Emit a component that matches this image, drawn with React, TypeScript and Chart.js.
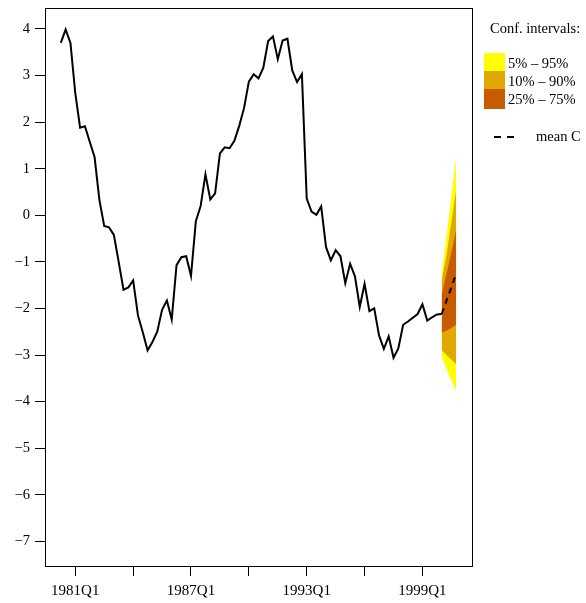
import React, { useEffect, useRef } from 'react';
import { Chart, registerables } from 'chart.js';
Chart.register(...registerables);

// Quarterly series starting 1980Q2
const startYear = 1980.25;
const seriesValues = [
  3.70, 3.99, 3.70, 2.62, 1.88, 1.91, 1.58, 1.25, 0.33, -0.23,
  -0.26, -0.42, -1.00, -1.60, -1.55, -1.40, -2.15, -2.51, -2.90, -2.72,
  -2.50, -2.03, -1.83, -2.24, -1.07, -0.90, -0.88, -1.30, -0.13, 0.20,
  0.88, 0.34, 0.47, 1.33, 1.46, 1.44, 1.60, 1.92, 2.30, 2.87,
  3.03, 2.94, 3.17, 3.74, 3.84, 3.35, 3.75, 3.79, 3.11, 2.86,
  3.03, 0.36, 0.08, 0.01, 0.19, -0.68, -0.97, -0.75, -0.88, -1.46,
  -1.04, -1.31, -1.97, -1.47, -2.06, -2.00, -2.58, -2.87, -2.60, -3.06,
  -2.86, -2.35, -2.28, -2.20, -2.12, -1.91, -2.26, -2.19, -2.13, -2.12,
];

// Forecast fan (2000Q1 .. 2000Q4)
const fanX = [2000.0, 2000.25, 2000.5, 2000.75];
const fanMean = [-2.12, -1.83, -1.55, -1.25];
const fanP95 = [-1.25, -0.45, 0.40, 1.25];
const fanP90 = [-1.40, -0.85, -0.15, 0.55];
const fanP75 = [-1.70, -1.25, -0.80, -0.30];
const fanP25 = [-2.52, -2.48, -2.42, -2.35];
const fanP10 = [-2.90, -3.00, -3.10, -3.20];
const fanP5 = [-3.05, -3.30, -3.55, -3.77];

const xTickValues = [1981, 1984, 1987, 1990, 1993, 1996, 1999];
const xTickLabels = ['1981Q1', '', '1987Q1', '', '1993Q1', '', '1999Q1'];
const yTickValues = [-7, -6, -5, -4, -3, -2, -1, 0, 1, 2, 3, 4];

const legendTitle = 'Conf. intervals:';
const legendLabels = ['5% \u2013 95%', '10% \u2013 90%', '25% \u2013 75%'];
const bandColors = ['#FFFF00', '#E0A800', '#C85A00'];
const meanLabel = 'mean C';

const FONT = '"Liberation Serif", "Times New Roman", serif';

const decorPlugin = {
  id: 'decor',
  afterDraw(chart: any) {
    const { ctx, chartArea: a } = chart;
    ctx.save();
    ctx.strokeStyle = '#000';
    ctx.lineWidth = 1;
    ctx.strokeRect(Math.round(a.left) + 0.5, Math.round(a.top) + 0.5, Math.round(a.right - a.left), Math.round(a.bottom - a.top));
    ctx.fillStyle = '#000';
    ctx.font = '14.5px ' + FONT;
    ctx.textBaseline = 'middle';
    ctx.textAlign = 'left';
    ctx.fillText(legendTitle, 490, 29);
    const boxTops = [53, 71, 89];
    const boxH = [18, 18, 20];
    for (let i = 0; i < 3; i++) {
      ctx.fillStyle = bandColors[i];
      ctx.fillRect(484, boxTops[i], 21, boxH[i]);
      ctx.fillStyle = '#000';
      ctx.fillText(legendLabels[i], 508, boxTops[i] + 11);
    }
    ctx.strokeStyle = '#000';
    ctx.lineWidth = 2;
    ctx.setLineDash([7, 6]);
    ctx.beginPath();
    ctx.moveTo(494, 137);
    ctx.lineTo(516, 137);
    ctx.stroke();
    ctx.setLineDash([]);
    ctx.fillText(meanLabel, 536, 137);
    ctx.restore();
  },
};

export default function App() {
  const ref = useRef<HTMLCanvasElement | null>(null);
  useEffect(() => {
    if (!ref.current) return;
    const mk = (xs: number[], ys: number[]) => xs.map((x, i) => ({ x, y: ys[i] }));
    const seriesPts = seriesValues.map((v, i) => ({ x: startYear + i / 4, y: v }));
    const band = (data: any[], fill: any, color: string, order: number) => ({
      data,
      borderWidth: 0,
      pointRadius: 0,
      backgroundColor: color,
      borderColor: color,
      fill,
      order,
      tension: 0,
    });
    const chart = new Chart(ref.current, {
      type: 'line',
      data: {
        datasets: [
          {
            data: seriesPts,
            borderColor: '#000',
            borderWidth: 2,
            pointRadius: 0,
            fill: false,
            order: 1,
            tension: 0,
          } as any,
          {
            data: mk(fanX, fanMean),
            borderColor: '#000',
            borderWidth: 2,
            borderDash: [6, 5],
            pointRadius: 0,
            fill: false,
            order: 0,
            tension: 0,
          },
          band(mk(fanX, fanP25), false, bandColors[2], 10),
          band(mk(fanX, fanP75), 2, bandColors[2], 3),
          band(mk(fanX, fanP10), false, bandColors[1], 10),
          band(mk(fanX, fanP90), 4, bandColors[1], 4),
          band(mk(fanX, fanP5), false, bandColors[0], 10),
          band(mk(fanX, fanP95), 6, bandColors[0], 5),
        ],
      },
      options: {
        responsive: false,
        animation: false,
        layout: { padding: { top: 8, right: 114, left: 0, bottom: 0 } },
        plugins: { legend: { display: false }, tooltip: { enabled: false } },
        scales: {
          x: {
            type: 'linear',
            min: 1979.43,
            max: 2001.57,
            afterBuildTicks: (s: any) => {
              s.ticks = xTickValues.map((v) => ({ value: v }));
            },
            afterFit: (s: any) => {
              s.height = 37;
              s.paddingLeft = 0;
              s.paddingRight = 0;
            },
            grid: { display: true, drawOnChartArea: false, drawTicks: true, tickLength: 10, color: '#000' },
            border: { display: true, color: '#000' },
            ticks: {
              autoSkip: false,
              maxRotation: 0,
              padding: 6,
              color: '#000',
              font: { family: FONT, size: 15 },
              callback: (_v: any, i: number) => xTickLabels[i] ?? '',
            },
          },
          y: {
            type: 'linear',
            min: -7.53,
            max: 4.45,
            afterBuildTicks: (s: any) => {
              s.ticks = yTickValues.map((v) => ({ value: v }));
            },
            afterFit: (s: any) => {
              s.width = 45;
              s.paddingTop = 0;
              s.paddingBottom = 0;
            },
            grid: { display: true, drawOnChartArea: false, drawTicks: true, tickLength: 10, color: '#000' },
            border: { display: true, color: '#000' },
            ticks: {
              padding: 5,
              color: '#000',
              font: { family: FONT, size: 14.5 },
              callback: (v: any) => (v < 0 ? '\u2212' + Math.abs(v) : String(v)),
            },
          },
        },
      } as any,
      plugins: [decorPlugin],
    });
    return () => chart.destroy();
  }, []);
  return (
    <div style={{ position: 'absolute', left: 0, top: 0, width: 586, height: 603, background: '#fff' }}>
      <canvas ref={ref} width={586} height={603} style={{ display: 'block', width: 586, height: 603 }} />
    </div>
  );
}
